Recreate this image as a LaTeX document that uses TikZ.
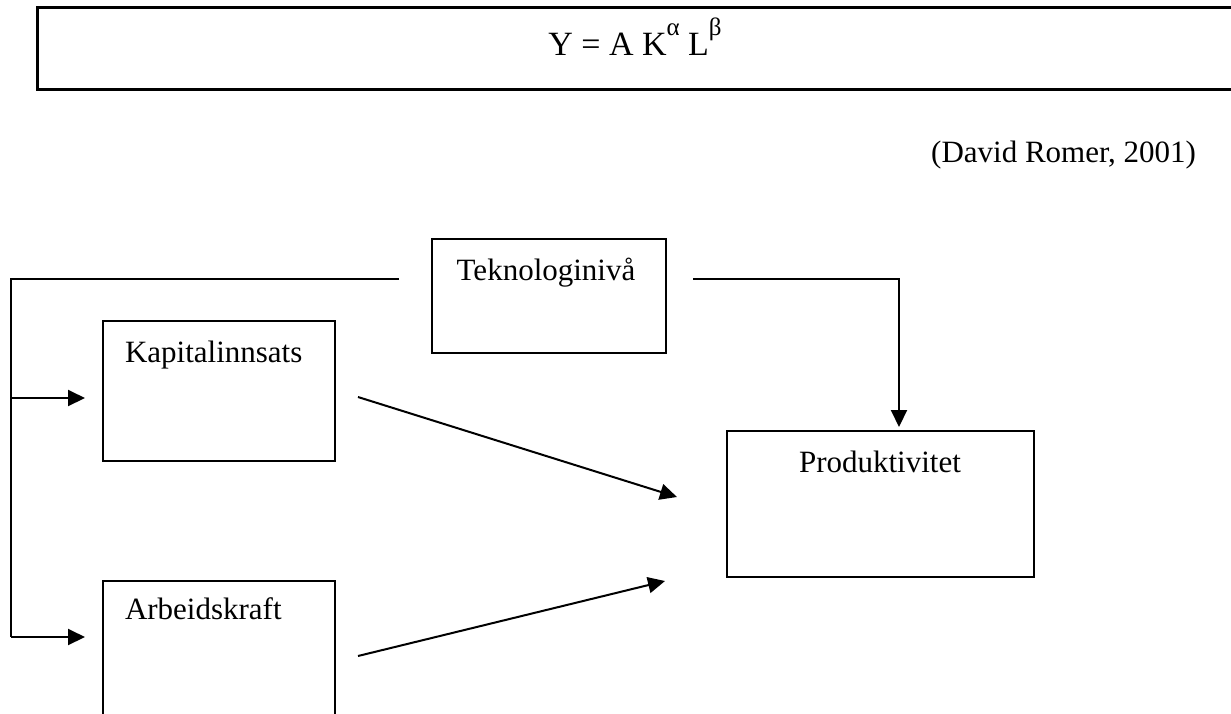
\documentclass[tikz,border=0pt]{standalone}
\usepackage{fontspec}
\setmainfont{Liberation Serif}
\usetikzlibrary{arrows.meta}
\begin{document}
\begin{tikzpicture}[x=0.5pt,y=-0.5pt,line width=1pt,
  box/.style={draw,line width=1pt,inner sep=0pt},
  lbl/.style={inner sep=0pt,font=\fontsize{15.5}{18}\selectfont},
  arr/.style={-{Triangle[length=8.5pt,width=8pt]},line width=1pt},
  ln/.style={line width=1pt}]
\useasboundingbox (0,0) rectangle (1231,713);
% formula box
\draw[line width=1.5pt] (1240,7) -- (37,7) -- (37,89) -- (1240,89);
\node[inner sep=0pt,anchor=base] (formula) at (635,55) {\fontsize{17}{20}\selectfont Y = A K\raisebox{10pt}{\fontsize{12.5}{14}\selectfont α} L\raisebox{10pt}{\fontsize{12.5}{14}\selectfont β}};
\node[lbl,anchor=base east] (src) at (1197,162) {(David Romer, 2001)};
% boxes
\node[box,minimum width=117pt,minimum height=57pt] (tek) at (549,296) {};
\node[box,minimum width=116pt,minimum height=70pt] (kap) at (219,391) {};
\node[box,minimum width=116pt,minimum height=69.5pt] (arb) at (219,650.5) {};
\node[box,minimum width=153.5pt,minimum height=73pt] (prod) at (880.5,504) {};
% labels
\node[lbl,anchor=base] (tekl) at (546,280) {Teknologinivå};
\node[lbl,anchor=base west] (kapl) at (124,362) {Kapitalinnsats};
\node[lbl,anchor=base west] (arbl) at (124,619) {Arbeidskraft};
\node[lbl,anchor=base] (prodl) at (880,472) {Produktivitet};
% connector points
\coordinate (tl) at (399,279);
\coordinate (tr) at (693,279);
\coordinate (corner) at (11,279);
\coordinate (kin) at (85,398);
\coordinate (ain) at (85,637);
\coordinate (ptop) at (899,427);
\coordinate (kout) at (358,397);
\coordinate (aout) at (358,656);
\coordinate (pk) at (677,497);
\coordinate (pa) at (665,581);
% connectors
\draw[ln] (tl) -- (corner) -- (corner |- ain);
\draw[arr] (corner |- kin) -- (kin);
\draw[arr] (corner |- ain) -- (ain);
\draw[arr] (tr) -| (ptop);
\draw[arr] (kout) -- (pk);
\draw[arr] (aout) -- (pa);
\end{tikzpicture}
\end{document}
